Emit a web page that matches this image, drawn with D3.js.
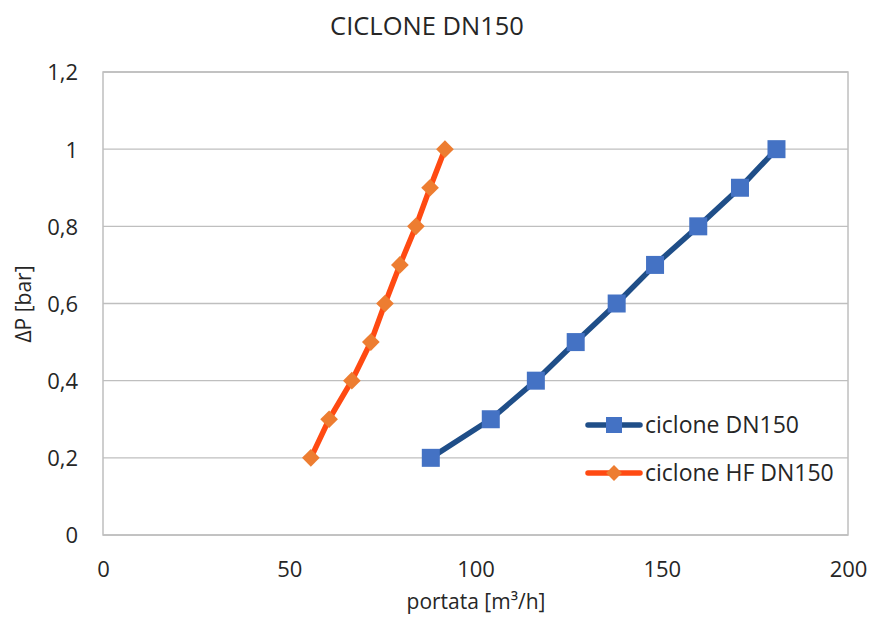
<!DOCTYPE html>
<html><head><meta charset="utf-8">
<script src="https://cdn.jsdelivr.net/npm/d3@7"></script>
<style>body{margin:0;background:#fff}svg{display:block}text{font-family:"Open Sans",sans-serif;fill:#262626}</style>
</head><body>
<script>
const title = "CICLONE DN150";
const xLabel = "portata [m³/h]";
const yLabel = "ΔP [bar]";
const xTicks = [0, 50, 100, 150, 200];
const yTicks = [0, 0.2, 0.4, 0.6, 0.8, 1, 1.2];
const seriesNames = ["ciclone DN150", "ciclone HF DN150"];
const dpValues = [0.2, 0.3, 0.4, 0.5, 0.6, 0.7, 0.8, 0.9, 1.0];
const flowDN150 = [88.0, 104.1, 116.2, 126.9, 137.9, 148.2, 159.8, 171.0, 180.8];
const flowHF = [55.8, 60.7, 66.8, 71.9, 75.7, 79.7, 84.0, 87.8, 91.8];

const W = 873, H = 621;
const m = {left: 103, right: 848, top: 72, bottom: 535};
const svg = d3.select("body").append("svg").attr("width", W).attr("height", H);
const x = d3.scaleLinear().domain([0, 200]).range([m.left, m.right]);
const y = d3.scaleLinear().domain([0, 1.2]).range([m.bottom, m.top]);

// gridlines
svg.append("g").selectAll("line").data(yTicks).join("line")
  .attr("x1", m.left).attr("x2", m.right)
  .attr("y1", d => y(d)).attr("y2", d => y(d))
  .attr("stroke", "#bfbfbf").attr("stroke-width", 1.3);
// border
svg.append("rect").attr("x", m.left).attr("y", m.top)
  .attr("width", m.right - m.left).attr("height", m.bottom - m.top)
  .attr("fill", "none").attr("stroke", "#bfbfbf").attr("stroke-width", 1.5);

const fmt = d => d3.format("~g")(d).replace(".", ",");
const yAxis = d3.axisLeft(y).tickValues(yTicks).tickFormat(fmt).tickSize(0).tickPadding(25);
svg.append("g").attr("transform", `translate(${m.left},0)`).call(yAxis)
  .call(g => g.select(".domain").remove())
  .selectAll("text").style("font-size", "22px").attr("fill", "#404040").attr("dy", "0.36em");
const xAxis = d3.axisBottom(x).tickValues(xTicks).tickFormat(fmt).tickSize(0).tickPadding(26);
svg.append("g").attr("transform", `translate(0,${m.bottom})`).call(xAxis)
  .call(g => g.select(".domain").remove())
  .selectAll("text").style("font-size", "22px").attr("fill", "#404040");

// titles
svg.append("text").attr("x", 427).attr("y", 35).attr("text-anchor", "middle")
  .style("font-size", "25.5px").text(title);
svg.append("text").attr("x", 476).attr("y", 609).attr("text-anchor", "middle")
  .style("font-size", "21px").attr("fill", "#404040").text(xLabel);
svg.append("text").attr("transform", `translate(31,304) rotate(-90)`).attr("text-anchor", "middle")
  .style("font-size", "21px").attr("fill", "#404040").text(yLabel);

const line = d3.line().x(d => x(d[0])).y(d => y(d[1]));
const dataBlue = flowDN150.map((f, i) => [f, dpValues[i]]);
const dataOrange = flowHF.map((f, i) => [f, dpValues[i]]);

const blueLine = "#1f4e88", blueMarker = "#4472c4";
const orangeLine = "#ff4a12", orangeMarker = "#ed7d31";

svg.append("path").datum(dataBlue).attr("d", line).attr("fill", "none")
  .attr("stroke", blueLine).attr("stroke-width", 5.5).attr("stroke-linejoin", "round");
svg.append("g").selectAll("rect").data(dataBlue).join("rect")
  .attr("x", d => x(d[0]) - 9).attr("y", d => y(d[1]) - 9)
  .attr("width", 18).attr("height", 18).attr("fill", blueMarker);

svg.append("path").datum(dataOrange).attr("d", line).attr("fill", "none")
  .attr("stroke", orangeLine).attr("stroke-width", 5.5).attr("stroke-linejoin", "round");
const diamond = d3.symbol().type(d3.symbolDiamond2).size(200);
svg.append("g").selectAll("path").data(dataOrange).join("path")
  .attr("transform", d => `translate(${x(d[0])},${y(d[1])})`)
  .attr("d", diamond).attr("fill", orangeMarker);

// legend
const leg = svg.append("g");
const legItems = [
  {name: seriesNames[0], line: blueLine, marker: blueMarker, type: "square", yy: 425},
  {name: seriesNames[1], line: orangeLine, marker: orangeMarker, type: "diamond", yy: 473}
];
legItems.forEach(it => {
  leg.append("line").attr("x1", 588).attr("x2", 640).attr("y1", it.yy).attr("y2", it.yy)
    .attr("stroke", it.line).attr("stroke-width", 5.5).attr("stroke-linecap", "round");
  if (it.type === "square") {
    leg.append("rect").attr("x", 614 - 8).attr("y", it.yy - 8).attr("width", 16).attr("height", 16).attr("fill", it.marker);
  } else {
    leg.append("path").attr("transform", `translate(614,${it.yy})`)
      .attr("d", d3.symbol().type(d3.symbolDiamond2).size(160)).attr("fill", it.marker);
  }
  leg.append("text").attr("x", 645).attr("y", it.yy).attr("dy", "0.35em")
    .style("font-size", "23px").text(it.name);
});
</script>
</body></html>
